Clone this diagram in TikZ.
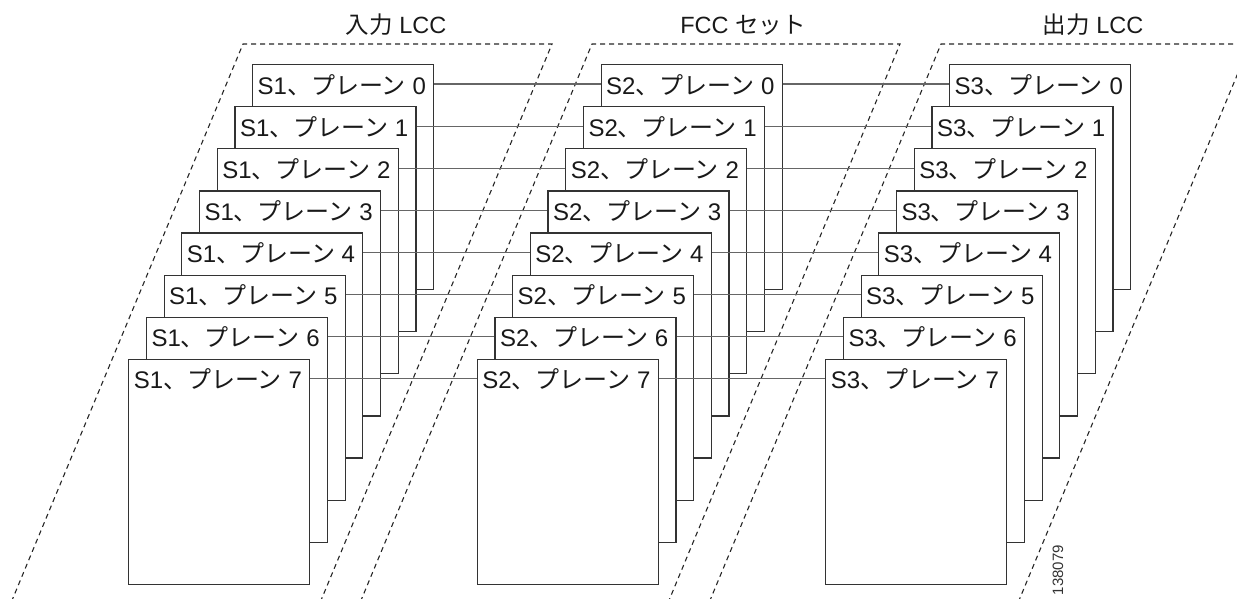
\documentclass[tikz,border=0pt]{standalone}
\usepackage{fontspec}
\setmainfont{Liberation Sans}
\newfontfamily\jp{Noto Sans CJK JP}
\usetikzlibrary{calc}
\begin{document}
\begin{tikzpicture}[x=1pt,y=-1pt,
  card/.style={draw=black!80, fill=white, line width=1.2pt, minimum width=181pt, minimum height=225pt, inner sep=0pt, anchor=north west},
  lbl/.style={anchor=base west, inner sep=0pt, text=black!90, font=\fontsize{24}{24}\selectfont},
  link/.style={draw=black!60, line width=1.2pt},
  region/.style={draw=black!85, dash pattern=on 5pt off 4pt, line width=1.1pt},
  title/.style={anchor=base, inner sep=0pt, text=black!90, font=\fontsize{23.5}{24}\selectfont},
  tag/.style={rotate=90, anchor=base east, inner sep=0pt, text=black!80, font=\fontsize{15}{15}\selectfont}]
\useasboundingbox (0,0) rectangle (1237,598);
\clip (0,0) rectangle (1237,598);
% dashed regions
\draw[region] (8,610) -- (243,44) -- (552,44) -- (317,610);
\draw[region] (357,610) -- (592,44) -- (900,44) -- (665,610);
\draw[region] (706,610) -- (941,44) -- (1250,44) -- (1015,610);
% titles
\node[title] (h1) at (396,33) {{\jp 入力} LCC};
\node[title] (h2) at (743,33) {FCC {\jp セット}};
\node[title] (h3) at (1093,33) {{\jp 出力} LCC};
% cards
\foreach \s/\m in {0/1,1/2,2/3} {
  \foreach \k in {0,...,7} {
    \node[card] (c\s\k) at ({252+348.5*\s-17.7*\k},{64+42.1*\k}) {};
    \node[lbl] (t\s\k) at ($(c\s\k.north west)+(5.5,30)$) {S\m{\jp 、プレーン} \k};
  }
}
% connectors
\foreach \k in {0,...,7} {
  \draw[link] ([yshift=-20pt]c0\k.north east) -- ([yshift=-20pt]c1\k.north west);
  \draw[link] ([yshift=-20pt]c1\k.north east) -- ([yshift=-20pt]c2\k.north west);
}
\node[tag] (id) at (1063,545) {138079};
\end{tikzpicture}
\end{document}
